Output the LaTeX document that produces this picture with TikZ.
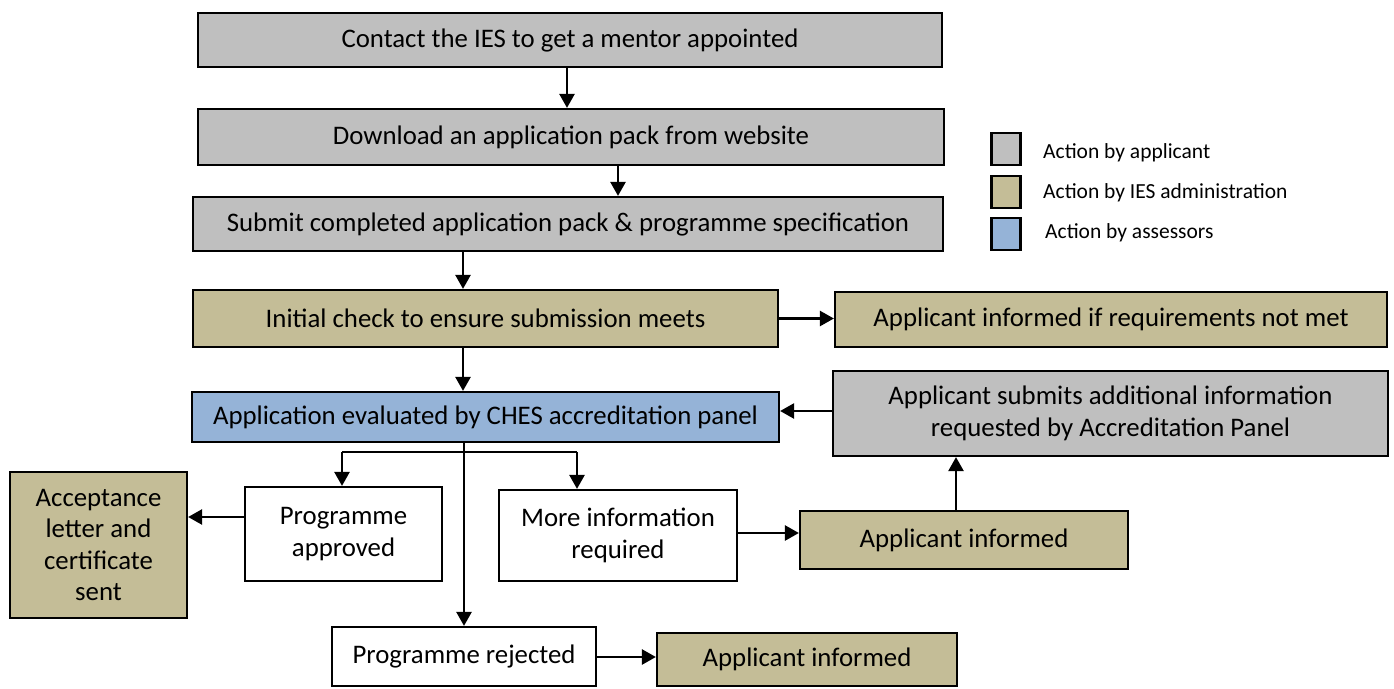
\documentclass[tikz,border=0pt]{standalone}
\usepackage{fontspec}
\setmainfont{Carlito}
\usetikzlibrary{arrows.meta,calc}
\definecolor{gbox}{HTML}{BFBFBF}
\definecolor{tbox}{HTML}{C4BD97}
\definecolor{bbox}{HTML}{95B3D7}
\tikzset{
 box/.style={draw=black, line width=2.2pt, inner sep=0pt, align=center, font=\fontsize{26.8}{31.5}\selectfont},
 appl/.style={box, fill=gbox},
 admin/.style={box, fill=tbox},
 assess/.style={box, fill=bbox},
 plain/.style={box, fill=white},
 arr/.style={line width=2.5pt, -{Triangle[length=14pt,width=15pt]}},
 ln/.style={line width=2.5pt},
 key/.style={draw=black, line width=2.2pt, inner sep=0pt, minimum width=29pt, minimum height=32pt},
 keytext/.style={anchor=west, inner sep=0pt, font=\fontsize{21.5}{24}\selectfont}
}
\newcommand\bx[7]{\node[#2, minimum width={#5pt-#3pt}, minimum height={#6pt-#4pt}] (#1) at ({(#3+#5)/2},{(#4+#6)/2}) {#7};}
\begin{document}
\begin{tikzpicture}[x=1pt,y=-1pt]
\useasboundingbox (0,0) rectangle (1394,688);
\bx{contact}{appl}{198}{13}{942}{67}{Contact the IES to get a mentor appointed}
\bx{download}{appl}{198}{109}{944}{165}{Download an application pack from website}
\bx{submit}{appl}{193}{197}{943}{251}{Submit completed application pack \& programme specification}
\bx{check}{admin}{193}{290}{778}{347}{Initial check to ensure submission meets}
\bx{notmet}{admin}{835}{292}{1387}{347}{Applicant informed if requirements not met}
\bx{panel}{assess}{192}{392}{779}{442}{Application evaluated by CHES accreditation panel}
\bx{extra}{appl}{833}{371}{1388}{456}{Applicant submits additional information\\requested by Accreditation Panel}
\bx{approved}{plain}{245}{487}{442}{581}{Programme\\approved}
\bx{moreinfo}{plain}{499}{490}{737}{581}{More information\\required}
\bx{accept}{admin}{10}{472}{187}{618}{Acceptance\\letter and\\certificate\\sent}
\bx{informed}{admin}{800}{511}{1128}{569}{Applicant informed}
\bx{rejected}{plain}{332}{627}{596}{686}{Programme rejected}
\bx{informedb}{admin}{657}{633}{957}{686}{Applicant informed}
% legend
\node[key, fill=gbox] (k1) at (1006,149) {};
\node[key, fill=tbox] (k2) at (1006,192) {};
\node[key, fill=bbox] (k3) at (1006,234) {};
\node[keytext] (t1) at (1043,153) {Action by applicant};
\node[keytext] (t2) at (1043,193) {Action by IES administration};
\node[keytext] (t3) at (1045,233) {Action by assessors};
% connectors
\coordinate (x1) at (567,0);
\coordinate (x2) at (618,0);
\coordinate (x3) at (463,0);
\coordinate (x5) at (956,0);
\coordinate (y1) at (0,411);
\coordinate (y2) at (0,517);
\coordinate (y3) at (0,533);
\coordinate (y4) at (0,657);
\coordinate (bl) at (342,452);
\coordinate (br) at (577,452);
\draw[arr] (contact.south -| x1) -- (download.north -| x1);
\draw[arr] (download.south -| x2) -- (submit.north -| x2);
\draw[arr] (submit.south -| x3) -- (check.north -| x3);
\draw[arr] (check.south -| x3) -- (panel.north -| x3);
\draw[arr] (check.east) -- (check.east -| notmet.west);
\draw[arr] (extra.west |- y1) -- (panel.east |- y1);
\draw[arr] (panel.south -| rejected.north) -- (rejected.north);
\draw[ln] (bl) -- (br);
\draw[arr] (bl) -- (approved.north -| bl);
\draw[arr] (br) -- (moreinfo.north -| br);
\draw[arr] (approved.west |- y2) -- (accept.east |- y2);
\draw[arr] (moreinfo.east |- y3) -- (informed.west |- y3);
\draw[arr] (informed.north -| x5) -- (extra.south -| x5);
\draw[arr] (rejected.east |- y4) -- (informedb.west |- y4);
\end{tikzpicture}
\end{document}
